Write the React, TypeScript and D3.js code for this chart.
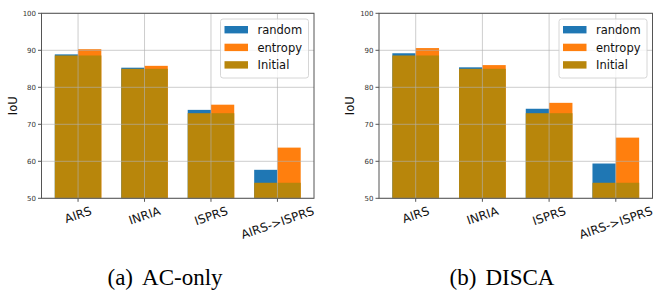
import { useEffect, useRef } from "react";
import * as d3 from "d3";

const categories = ["AIRS", "INRIA", "ISPRS", "AIRS->ISPRS"];
const initialIoU = [88.6, 85.0, 73.0, 54.2];
const acRandom = [88.9, 85.3, 73.9, 57.7];
const acEntropy = [90.3, 85.8, 75.3, 63.7];
const discaRandom = [89.2, 85.4, 74.2, 59.4];
const discaEntropy = [90.6, 86.0, 75.8, 66.4];
const yTicks = [50, 60, 70, 80, 90, 100];
const legendLabels = ["random", "entropy", "Initial"];
const legendColors = ["#1f77b4", "#ff7f0e", "#b8860b"];

const panels = [
  { tag: "(a)", caption: "AC-only", random: acRandom, entropy: acEntropy, left: 41.5, right: 314, captionX: 165 },
  { tag: "(b)", caption: "DISCA", random: discaRandom, entropy: discaEntropy, left: 379, right: 652.5, captionX: 502 },
];

const App = () => {
  const ref = useRef<SVGSVGElement>(null);

  useEffect(() => {
    const svg = d3.select(ref.current);
    svg.selectAll("*").remove();

    const top = 13.3;
    const bottom = 198.3;
    const barW = 0.35;
    const y = d3.scaleLinear().domain([50, 100]).range([bottom, top]);
    const font = "DejaVu Sans, sans-serif";

    panels.forEach((p) => {
      const g = svg.append("g");
      const x = d3.scaleLinear().domain([-0.55, 3.55]).range([p.left, p.right]);
      const idx = categories.map((_, i) => i);

      // random bars (left half)
      g.selectAll(".rand")
        .data(idx)
        .enter()
        .append("rect")
        .attr("x", (i) => x(i - barW))
        .attr("width", x(barW) - x(0))
        .attr("y", (i) => y(p.random[i]))
        .attr("height", (i) => bottom - y(p.random[i]))
        .attr("fill", legendColors[0]);

      // entropy bars (right half)
      g.selectAll(".ent")
        .data(idx)
        .enter()
        .append("rect")
        .attr("x", (i) => x(i))
        .attr("width", x(barW) - x(0))
        .attr("y", (i) => y(p.entropy[i]))
        .attr("height", (i) => bottom - y(p.entropy[i]))
        .attr("fill", legendColors[1]);

      // initial bars across both
      g.selectAll(".init")
        .data(idx)
        .enter()
        .append("rect")
        .attr("x", (i) => x(i - barW))
        .attr("width", x(2 * barW) - x(0))
        .attr("y", (i) => y(initialIoU[i]))
        .attr("height", (i) => bottom - y(initialIoU[i]))
        .attr("fill", legendColors[2]);

      // grid on top of bars
      g.selectAll(".hgrid")
        .data(yTicks)
        .enter()
        .append("line")
        .attr("x1", p.left)
        .attr("x2", p.right)
        .attr("y1", (d) => y(d))
        .attr("y2", (d) => y(d))
        .attr("stroke", "#b0b0b0")
        .attr("stroke-opacity", 0.8)
        .attr("stroke-width", 0.8);
      g.selectAll(".vgrid")
        .data(idx)
        .enter()
        .append("line")
        .attr("x1", (i) => x(i))
        .attr("x2", (i) => x(i))
        .attr("y1", top)
        .attr("y2", bottom)
        .attr("stroke", "#b0b0b0")
        .attr("stroke-opacity", 0.8)
        .attr("stroke-width", 0.8);

      // frame
      g.append("rect")
        .attr("x", p.left)
        .attr("y", top)
        .attr("width", p.right - p.left)
        .attr("height", bottom - top)
        .attr("fill", "none")
        .attr("stroke", "#555")
        .attr("stroke-width", 1);

      // y ticks
      g.selectAll(".yt")
        .data(yTicks)
        .enter()
        .append("line")
        .attr("x1", p.left - 3.5)
        .attr("x2", p.left)
        .attr("y1", (d) => y(d))
        .attr("y2", (d) => y(d))
        .attr("stroke", "#555");
      g.selectAll(".yl")
        .data(yTicks)
        .enter()
        .append("text")
        .attr("x", p.left - 5.5)
        .attr("y", (d) => y(d))
        .attr("dy", "0.36em")
        .attr("text-anchor", "end")
        .attr("font-family", font)
        .attr("font-size", 7)
        .attr("fill", "#333")
        .text((d) => d);

      g.append("text")
        .attr("transform", `translate(${p.left - 25},${(top + bottom) / 2}) rotate(-90)`)
        .attr("text-anchor", "middle")
        .attr("font-family", font)
        .attr("font-size", 11.5)
        .attr("fill", "#111")
        .text("IoU");

      // x ticks
      g.selectAll(".xt")
        .data(idx)
        .enter()
        .append("line")
        .attr("x1", (i) => x(i))
        .attr("x2", (i) => x(i))
        .attr("y1", bottom)
        .attr("y2", bottom + 3.5)
        .attr("stroke", "#555");

      const rot = 19;
      const theta = (rot * Math.PI) / 180;
      const fs = 12;
      g.selectAll(".xl")
        .data(idx)
        .enter()
        .append("text")
        .attr("text-anchor", "middle")
        .attr("dy", "0.36em")
        .attr("font-family", font)
        .attr("font-size", fs)
        .attr("fill", "#111")
        .text((i) => categories[i])
        .each(function (i) {
          const w = (this as SVGTextElement).getComputedTextLength();
          const hh = w * Math.sin(theta) + 0.73 * fs * Math.cos(theta);
          const cy = 206 + hh / 2;
          d3.select(this).attr("transform", `translate(${x(i)},${cy}) rotate(${-rot})`);
        });

      // legend
      const boxW = 88;
      const boxL = p.right - 5.5 - boxW;
      g.append("rect")
        .attr("x", boxL)
        .attr("y", 19)
        .attr("width", boxW)
        .attr("height", 59)
        .attr("rx", 2.5)
        .attr("fill", "white")
        .attr("fill-opacity", 0.8)
        .attr("stroke", "#ccc")
        .attr("stroke-width", 0.8);
      const rowY = [29.7, 47.4, 64.9];
      legendLabels.forEach((lab, k) => {
        g.append("rect")
          .attr("x", boxL + 4)
          .attr("y", rowY[k] - 3.7)
          .attr("width", 23.5)
          .attr("height", 7.4)
          .attr("fill", legendColors[k]);
        g.append("text")
          .attr("x", boxL + 37)
          .attr("y", rowY[k])
          .attr("dy", "0.36em")
          .attr("font-family", font)
          .attr("font-size", 11.5)
          .attr("fill", "#111")
          .text(lab);
      });

      // caption
      const cap = g
        .append("text")
        .attr("x", p.captionX)
        .attr("y", 285)
        .attr("text-anchor", "middle")
        .attr("font-family", "Liberation Serif, serif")
        .attr("font-size", 23)
        .attr("fill", "#000");
      cap.append("tspan").text(p.tag);
      cap.append("tspan").attr("dx", 9).text(p.caption);
    });
  }, []);

  return (
    <svg
      ref={ref}
      width={663}
      height={291}
      style={{ position: "absolute", left: 0, top: 0, background: "white" }}
    />
  );
};

export default App;
